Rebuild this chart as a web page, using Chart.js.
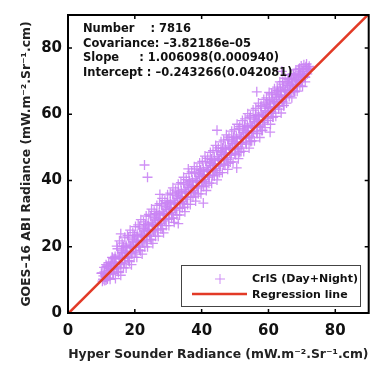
<!DOCTYPE html>
<html>
<head>
<meta charset="utf-8">
<script src="https://cdn.jsdelivr.net/npm/chart.js@4.4.0/dist/chart.umd.min.js"></script>
<style>
  html, body { margin: 0; padding: 0; background: #fff; }
  #wrap { width: 375px; height: 368px; }
</style>
</head>
<body>
<div id="wrap"><canvas id="myChart"></canvas></div>
<script>
// CrIS vs ABI radiance pairs
const crisX = [
  10.0,10.3,10.6,10.9,11.2,11.5,11.8,12.1,12.4,12.7,13.0,
  13.3,13.6,13.9,14.2,14.5,14.8,15.1,15.4,15.7,16.0,16.3,
  16.6,16.9,17.2,17.5,17.8,18.1,18.4,18.7,19.0,19.3,19.6,
  19.9,20.2,20.5,20.8,21.1,21.4,21.7,22.0,22.3,22.6,22.9,
  23.2,23.5,23.8,24.1,24.4,24.7,25.0,25.3,25.6,25.9,26.2,
  26.5,26.8,27.1,27.4,27.7,28.0,28.3,28.6,28.9,29.2,29.5,
  29.8,30.1,30.4,30.7,31.0,31.3,31.6,31.9,32.2,32.5,32.8,
  33.1,33.4,33.7,34.0,34.3,34.6,34.9,35.2,35.5,35.8,36.1,
  36.4,36.7,37.0,37.3,37.6,37.9,38.2,38.5,38.8,39.1,39.4,
  39.7,40.0,40.3,40.6,40.9,41.2,41.5,41.8,42.1,42.4,42.7,
  43.0,43.3,43.6,43.9,44.2,44.5,44.8,45.1,45.4,45.7,46.0,
  46.3,46.6,46.9,47.2,47.5,47.8,48.1,48.4,48.7,49.0,49.3,
  49.6,49.9,50.2,50.5,50.8,51.1,51.4,51.7,52.0,52.3,52.6,
  52.9,53.2,53.5,53.8,54.1,54.4,54.7,55.0,55.3,55.6,55.9,
  56.2,56.5,56.8,57.1,57.4,57.7,58.0,58.3,58.6,58.9,59.2,
  59.5,59.8,60.1,60.4,60.7,61.0,61.3,61.6,61.9,62.2,62.5,
  62.8,63.1,63.4,63.7,64.0,64.3,64.6,64.9,65.2,65.5,65.8,
  66.1,66.4,66.7,67.0,67.3,67.6,67.9,68.2,68.5,68.8,69.1,
  69.4,69.7,70.0,70.4,70.8,71.2,71.6,72.0,72.4,
  10.2,10.5,10.8,11.1,11.4,11.7,12.0,12.3,12.6,12.9,13.2,
  13.5,13.8,14.1,14.4,14.7,15.0,15.3,15.6,15.9,16.2,16.5,
  16.8,17.1,17.4,17.7,18.0,18.3,18.6,18.9,19.2,19.5,19.8,
  20.1,20.4,20.7,21.0,21.3,21.6,21.9,22.2,22.5,22.8,23.1,
  23.4,23.7,24.0,24.3,24.6,24.9,25.2,25.5,25.8,26.1,26.4,
  26.7,27.0,27.3,27.6,27.9,28.2,28.5,28.8,29.1,29.4,29.7,
  30.0,30.3,30.6,30.9,31.2,31.5,31.8,32.1,32.4,32.7,33.0,
  33.3,33.6,33.9,34.2,34.5,34.8,35.1,35.4,35.7,36.0,36.3,
  36.6,36.9,37.2,37.5,37.8,38.1,38.4,38.7,39.0,39.3,39.6,
  39.9,40.2,40.5,40.8,41.1,41.4,41.7,42.0,42.3,42.6,42.9,
  43.2,43.5,43.8,44.1,44.4,44.7,45.0,45.3,45.6,45.9,46.2,
  46.5,46.8,47.1,47.4,47.7,48.0,48.3,48.6,48.9,49.2,49.5,
  49.8,50.1,50.4,50.7,51.0,51.3,51.6,51.9,52.2,52.5,52.8,
  53.1,53.4,53.7,54.0,54.3,54.6,54.9,55.2,55.5,55.8,56.1,
  56.4,56.7,57.0,57.3,57.6,57.9,58.2,58.5,58.8,59.1,59.4,
  59.7,60.0,60.3,60.6,60.9,61.2,61.5,61.8,62.1,62.4,62.7,
  63.0,63.3,63.6,63.9,64.2,64.5,64.8,65.1,65.4,65.7,66.0,
  66.3,66.6,66.9,67.2,67.5,67.8,68.1,68.4,68.7,69.0,69.3,
  69.6,69.9,70.2,70.6,71.0,71.4,71.8,72.2,
  11.0,11.4,11.8,12.2,12.6,13.0,13.4,13.8,
  14.2,14.6,15.0,15.4,15.8,16.2,16.6,17.0,
  17.4,17.8,18.2,18.6,19.0,19.4,19.8,20.2,
  20.6,21.0,21.4,21.8,22.2,22.6,23.0,23.4,
  23.8,24.2,24.6,25.0,25.4,25.8,26.2,26.6,
  27.0,27.4,27.8,28.2,28.6,29.0,29.4,29.8,
  30.2,30.6,31.0,31.4,31.8,32.2,32.6,33.0,
  33.4,33.8,34.2,34.6,35.0,35.4,35.8,36.2,
  36.6,37.0,37.4,37.8,38.2,38.6,39.0,39.4,
  39.8,40.2,40.6,41.0,41.4,41.8,42.2,42.6,
  43.0,43.4,43.8,44.2,44.6,45.0,45.4,45.8,
  46.2,46.6,47.0,47.4,47.8,48.2,48.6,49.0,
  49.4,49.8,50.2,50.6,51.0,51.4,51.8,52.2,
  52.6,53.0,53.4,53.8,54.2,54.6,55.0,55.4,
  55.8,56.2,56.6,57.0,57.4,57.8,58.2,58.6,
  59.0,59.4,59.8,60.2,60.6,61.0,61.4,61.8,
  62.2,62.6,63.0,63.4,63.8,64.2,64.6,65.0,
  65.4,65.8,66.2,66.6,67.0,67.4,67.8,68.2,
  68.6,69.0,69.4,69.8,70.2,70.6,71.0,71.4,
  22.9,23.8,15.8,27.5,44.6,56.5,40.5,33.0,60.5,50.5,36.0,64.0
];
const crisY = [
  12.0,9.6,11.2,12.4,10.9,14.0,10.3,12.8,11.6,14.3,13.1,
  16.7,11.8,14.8,16.4,13.9,19.4,12.2,16.9,14.6,19.0,16.5,
  20.0,15.1,18.1,19.7,17.2,22.7,15.5,20.2,17.9,22.3,19.8,
  23.3,18.4,21.4,23.0,20.5,26.0,18.8,23.5,21.2,25.6,23.1,
  26.6,21.7,24.7,26.3,23.8,29.3,22.1,26.8,24.5,28.9,26.4,
  29.9,25.0,28.0,29.6,27.1,32.6,25.4,30.1,27.8,32.2,29.7,
  33.2,28.3,31.3,32.9,30.4,35.9,28.7,33.4,31.1,35.5,33.0,
  36.5,31.6,34.6,36.2,33.7,39.2,32.0,36.7,34.4,38.8,36.3,
  39.8,34.9,37.9,39.5,37.0,42.5,35.3,40.0,37.7,42.1,39.6,
  43.1,38.2,41.2,42.8,40.3,45.8,38.6,43.3,41.0,45.4,42.9,
  46.4,41.5,44.5,46.1,43.6,49.1,41.9,46.6,44.3,48.7,46.2,
  49.7,44.8,47.8,49.4,46.9,52.4,45.2,49.9,47.6,52.0,49.5,
  53.0,48.1,51.1,52.7,50.2,55.7,48.5,53.2,50.9,55.3,52.8,
  56.3,51.4,54.4,56.0,53.5,59.0,51.8,56.5,54.2,58.6,56.1,
  59.6,54.7,57.7,59.3,56.8,62.3,55.1,59.8,57.5,61.9,59.4,
  63.7,58.8,61.8,63.4,60.9,66.4,59.2,63.9,61.6,66.0,63.5,
  67.2,62.3,65.3,66.9,64.4,69.9,62.7,67.4,65.1,69.5,67.0,
  70.0,66.6,68.6,69.7,67.9,71.8,66.9,70.3,68.4,71.2,69.8,
  72.8,70.1,71.6,73.0,71.5,74.4,72.2,74.0,73.6,
  12.1,10.2,13.8,11.7,10.0,14.2,12.0,13.5,11.8,14.9,16.8,
  15.4,13.5,17.1,15.0,13.3,17.5,15.3,16.8,15.1,18.2,20.1,
  18.7,16.8,20.4,18.3,16.6,20.8,18.6,20.1,18.4,21.5,23.4,
  22.0,20.1,23.7,21.6,19.9,24.1,21.9,23.4,21.7,24.8,26.7,
  25.3,23.4,27.0,24.9,23.2,27.4,25.2,26.7,25.0,28.1,30.0,
  28.6,26.7,30.3,28.2,26.5,30.7,28.5,30.0,28.3,31.4,33.3,
  31.9,30.0,33.6,31.5,29.8,34.0,31.8,33.3,31.6,34.7,36.6,
  35.2,33.3,36.9,34.8,33.1,37.3,35.1,36.6,34.9,38.0,39.9,
  38.5,36.6,40.2,38.1,36.4,40.6,38.4,39.9,38.2,41.3,43.2,
  41.8,39.9,43.5,41.4,39.7,43.9,41.7,43.2,41.5,44.6,46.5,
  45.1,43.2,46.8,44.7,43.0,47.2,45.0,46.5,44.8,47.9,49.8,
  48.4,46.5,50.1,48.0,46.3,50.5,48.3,49.8,48.1,51.2,53.1,
  51.7,49.8,53.4,51.3,49.6,53.8,51.6,53.1,51.4,54.5,56.4,
  55.0,53.1,56.7,54.6,52.9,57.1,54.9,56.4,54.7,57.8,59.7,
  58.3,56.4,60.0,57.9,56.2,60.4,58.2,59.7,58.0,61.1,63.0,
  62.4,60.5,64.1,62.0,60.3,64.5,62.3,63.8,62.1,65.2,67.1,
  65.9,64.0,67.6,65.5,63.8,68.0,65.8,67.3,65.6,68.7,70.6,
  69.2,67.3,70.9,68.8,67.1,71.3,69.1,70.6,68.9,72.0,73.9,
  71.9,70.6,73.0,72.2,71.2,73.8,73.5,74.5,
  9.8,14.6,10.6,15.2,10.2,15.0,12.0,16.4,
  10.4,20.2,12.6,21.8,11.4,21.1,13.6,22.9,
  13.6,23.4,15.8,25.0,14.6,24.3,16.8,26.1,
  16.8,26.6,19.0,28.2,17.8,27.5,20.0,29.3,
  20.0,29.8,22.2,31.4,21.0,30.7,23.2,32.5,
  23.2,33.0,25.4,34.6,24.2,33.9,26.4,35.7,
  26.4,36.2,28.6,37.8,27.4,37.1,29.6,38.9,
  29.6,39.4,31.8,41.0,30.6,40.3,32.8,42.1,
  32.8,42.6,35.0,44.2,33.8,43.5,36.0,45.3,
  36.0,45.8,38.2,47.4,37.0,46.7,39.2,48.5,
  39.2,49.0,41.4,50.6,40.2,49.9,42.4,51.7,
  42.4,52.2,44.6,53.8,43.4,53.1,45.6,54.9,
  45.6,55.4,47.8,57.0,46.6,56.3,48.8,58.1,
  48.8,58.6,51.0,60.2,49.8,59.5,52.0,61.3,
  52.0,61.8,54.2,63.4,53.0,62.7,55.2,64.5,
  56.0,65.0,58.2,66.6,57.0,65.9,59.2,67.7,
  59.4,68.2,61.6,69.8,60.4,69.1,62.6,70.9,
  63.4,70.8,65.4,72.0,65.0,72.3,66.8,73.4,
  67.0,73.6,68.6,74.6,68.4,75.0,69.8,75.2,
  44.7,41.0,23.9,35.8,55.2,66.8,33.2,27.0,54.6,43.8,43.5,73.0
];

// regression line end points
const regX = [0, 90];
const regY = [-0.24, 90.30];

const axisTicks = [0, 20, 40, 60, 80];

const statLines = [
  "Number    : 7816",
  "Covariance: \u20133.82186e\u201305",
  "Slope     : 1.006098(0.000940)",
  "Intercept : \u20130.243266(0.042081)"
];

const purple = "rgba(202,132,244,0.9)";
const red = "#e23a26";

const boxPlugin = {
  id: "matlabBox",
  afterDatasetsDraw(chart) {
    const ctx = chart.ctx;
    const a = chart.chartArea;
    const xs = chart.scales.x, ys = chart.scales.y;
    ctx.save();
    // frame
    ctx.strokeStyle = "#000";
    ctx.lineWidth = 2;
    ctx.strokeRect(a.left, a.top, a.right - a.left, a.bottom - a.top);
    // inward ticks on every side
    ctx.lineWidth = 1.5;
    axisTicks.forEach(function (t) {
      const px = xs.getPixelForValue(t);
      const py = ys.getPixelForValue(t);
      ctx.beginPath();
      ctx.moveTo(px, a.bottom); ctx.lineTo(px, a.bottom - 4);
      ctx.moveTo(px, a.top); ctx.lineTo(px, a.top + 4);
      ctx.moveTo(a.left, py); ctx.lineTo(a.left + 4, py);
      ctx.moveTo(a.right, py); ctx.lineTo(a.right - 4, py);
      ctx.stroke();
    });

    // statistics text
    ctx.fillStyle = "#111";
    ctx.font = "bold 11.5px 'DejaVu Sans'";
    ctx.textBaseline = "middle";
    ctx.textAlign = "left";
    statLines.forEach(function (s, i) {
      ctx.fillText(s, a.left + 15, a.top + 14 + i * 14.7);
    });

    // legend box
    const lx = 181, ly = 265, lw = 179, lh = 41;
    ctx.fillStyle = "#fff";
    ctx.fillRect(lx, ly, lw, lh);
    ctx.strokeStyle = "#444";
    ctx.lineWidth = 1;
    ctx.strokeRect(lx + 0.5, ly + 0.5, lw, lh);
    // marker
    ctx.strokeStyle = purple;
    ctx.lineWidth = 1;
    ctx.beginPath();
    ctx.moveTo(220, 274); ctx.lineTo(220, 284);
    ctx.moveTo(215, 279); ctx.lineTo(225, 279);
    ctx.stroke();
    ctx.strokeStyle = red;
    ctx.lineWidth = 2.5;
    ctx.beginPath();
    ctx.moveTo(192, 294); ctx.lineTo(247, 294);
    ctx.stroke();
    ctx.fillStyle = "#111";
    ctx.font = "bold 11px 'DejaVu Sans'";
    ctx.fillText(chart.data.datasets[0].label, 252, 279);
    ctx.fillText(chart.data.datasets[1].label, 252, 295);
    ctx.restore();
  }
};

const data = {
  datasets: [
    {
      type: "scatter",
      label: "CrIS (Day+Night)",
      data: crisX.map(function (x, i) { return { x: x, y: crisY[i] }; }),
      pointStyle: "cross",
      pointRadius: 5,
      borderWidth: 1.3,
      borderColor: purple,
      backgroundColor: purple,
      order: 2
    },
    {
      type: "line",
      label: "Regression line",
      data: regX.map(function (x, i) { return { x: x, y: regY[i] }; }),
      borderColor: red,
      borderWidth: 2.5,
      pointRadius: 0,
      fill: false,
      order: 1
    }
  ]
};

const tickFont = { family: "'DejaVu Sans'", size: 15, weight: "bold" };
const titleFont = { family: "'DejaVu Sans'", size: 12.4, weight: "bold" };

const config = {
  type: "scatter",
  data: data,
  options: {
    responsive: false,
    animation: false,
    layout: { padding: { top: 14, right: 5, left: 0, bottom: 0 } },
    scales: {
      x: {
        type: "linear",
        min: 0,
        max: 90,
        afterFit: function (s) { s.height = 55; },
        afterBuildTicks: function (s) { s.ticks = axisTicks.map(function (v) { return { value: v }; }); },
        grid: { display: false, drawTicks: false },
        border: { display: false },
        ticks: { font: tickFont, color: "#111", padding: 9, maxRotation: 0 },
        title: {
          display: true,
          text: "Hyper Sounder Radiance (mW.m\u207B\u00B2.Sr\u207B\u00B9.cm)",
          font: titleFont,
          color: "#222",
          padding: { top: 0, bottom: 6 }
        }
      },
      y: {
        type: "linear",
        min: 0,
        max: 90,
        afterFit: function (s) { s.width = 68; },
        afterBuildTicks: function (s) { s.ticks = axisTicks.map(function (v) { return { value: v }; }); },
        grid: { display: false, drawTicks: false },
        border: { display: false },
        ticks: { font: tickFont, color: "#111", padding: 6 },
        title: {
          display: true,
          text: "GOES\u201316 ABI Radiance (mW.m\u207B\u00B2.Sr\u207B\u00B9.cm)",
          font: titleFont,
          color: "#222",
          padding: { top: 19, bottom: 0 }
        }
      }
    },
    plugins: {
      legend: { display: false },
      tooltip: { enabled: false }
    }
  },
  plugins: [boxPlugin]
};

const cv = document.getElementById("myChart");
cv.width = 375;
cv.height = 368;
const myChart = new Chart(cv, config);
</script>
</body>
</html>
